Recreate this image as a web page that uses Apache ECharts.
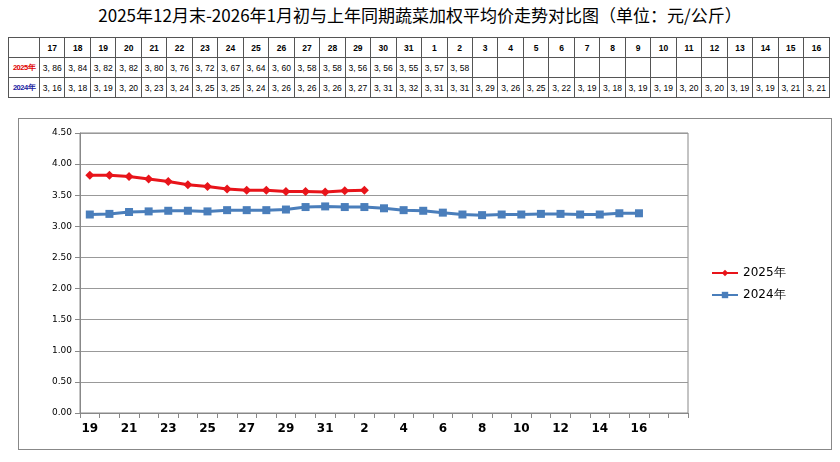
<!DOCTYPE html>
<html><head><meta charset="utf-8">
<script src="https://cdn.jsdelivr.net/npm/echarts@6/dist/echarts.min.js"></script>
<style>
body{margin:0;width:840px;height:462px;background:#fff;font-family:"Noto Sans CJK SC",sans-serif;position:relative;overflow:hidden}
#title{position:absolute;left:0;top:2px;width:840px;text-align:center;font-size:17px;color:#000}
table{position:absolute;left:8px;top:37px;width:822px;border-collapse:collapse;table-layout:fixed;font-family:"Liberation Sans",sans-serif;font-size:8.5px}
td{border:1px solid #555;height:19px;padding:0;text-align:center;white-space:nowrap;overflow:hidden}
td.h{width:30px;font-size:7.5px;font-weight:bold;letter-spacing:-0.5px}
tr:first-child td{font-weight:bold}
#box{position:absolute;left:18px;top:118px;width:812px;height:330px;border:1px solid #888}
#chart{position:absolute;left:0;top:112px;width:840px;height:350px}
</style></head><body>
<div id="title">2025年12月末-2026年1月初与上年同期蔬菜加权平均价走势对比图（单位：元/公斤）</div>
<table id="tbl"></table>
<div id="box"></div>
<div id="chart"></div>
<script>
const tableDays = ['17','18','19','20','21','22','23','24','25','26','27','28','29','30','31','1','2','3','4','5','6','7','8','9','10','11','12','13','14','15','16'];
const table2025 = [3.86,3.84,3.82,3.82,3.80,3.76,3.72,3.67,3.64,3.60,3.58,3.58,3.56,3.56,3.55,3.57,3.58];
const table2024 = [3.16,3.18,3.19,3.20,3.23,3.24,3.25,3.25,3.24,3.26,3.26,3.26,3.27,3.31,3.32,3.31,3.31,3.29,3.26,3.25,3.22,3.19,3.18,3.19,3.19,3.20,3.20,3.19,3.19,3.21,3.21];
const chartDays = ['19','20','21','22','23','24','25','26','27','28','29','30','31','1','2','3','4','5','6','7','8','9','10','11','12','13','14','15','16','17','18'];
const chart2025 = [3.82,3.82,3.80,3.76,3.72,3.67,3.64,3.60,3.58,3.58,3.56,3.56,3.55,3.57,3.58];
const chart2024 = [3.19,3.20,3.23,3.24,3.25,3.25,3.24,3.26,3.26,3.26,3.27,3.31,3.32,3.31,3.31,3.29,3.26,3.25,3.22,3.19,3.18,3.19,3.19,3.20,3.20,3.19,3.19,3.21,3.21];

const fmt = v => v.toFixed(2).replace('.', ', ');
let html = '<tr><td class="h"></td>' + tableDays.map(d => '<td>' + d + '</td>').join('') + '</tr>';
html += '<tr><td class="h" style="color:#e00000">2025年</td>' + tableDays.map((d, i) => '<td>' + (i < table2025.length ? fmt(table2025[i]) : '') + '</td>').join('') + '</tr>';
html += '<tr><td class="h" style="color:#2020a0">2024年</td>' + tableDays.map((d, i) => '<td>' + fmt(table2024[i]) + '</td>').join('') + '</tr>';
document.getElementById('tbl').innerHTML = html;

const chart = echarts.init(document.getElementById('chart'));
chart.setOption({
  animation: false,
  grid: {left: 80, right: 152, top: 21, bottom: 49, show: true, borderColor: '#888'},
  legend: {
    orient: 'vertical', left: 706, top: 150, itemGap: 10,
    itemWidth: 26, itemHeight: 8,
    textStyle: {fontSize: 12, fontFamily: 'DejaVu Sans', color: '#000'},
    data: ['2025年', '2024年']
  },
  xAxis: {
    type: 'category', data: chartDays, boundaryGap: true,
    axisLine: {lineStyle: {color: '#888'}},
    axisTick: {show: true, interval: 0, lineStyle: {color: '#888'}},
    axisLabel: {interval: 1, fontSize: 12, fontWeight: 'bold', color: '#000', fontFamily: 'DejaVu Sans', margin: 10,
      formatter: (v, i) => i < 29 ? v : ''}
  },
  yAxis: {
    type: 'value', min: 0, max: 4.5, interval: 0.5,
    axisLine: {show: true, lineStyle: {color: '#888'}},
    axisTick: {show: true, lineStyle: {color: '#888'}},
    splitLine: {lineStyle: {color: '#999'}},
    axisLabel: {formatter: v => v.toFixed(2), fontSize: 9, color: '#000', fontFamily: 'DejaVu Sans'}
  },
  series: [
    {name: '2025年', type: 'line', data: chart2025, color: '#e8141a', symbol: 'diamond', symbolSize: 9, lineStyle: {width: 3}},
    {name: '2024年', type: 'line', data: chart2024, color: '#4a7ebb', symbol: 'rect', symbolSize: 8, lineStyle: {width: 3}}
  ]
});
</script>
</body></html>
